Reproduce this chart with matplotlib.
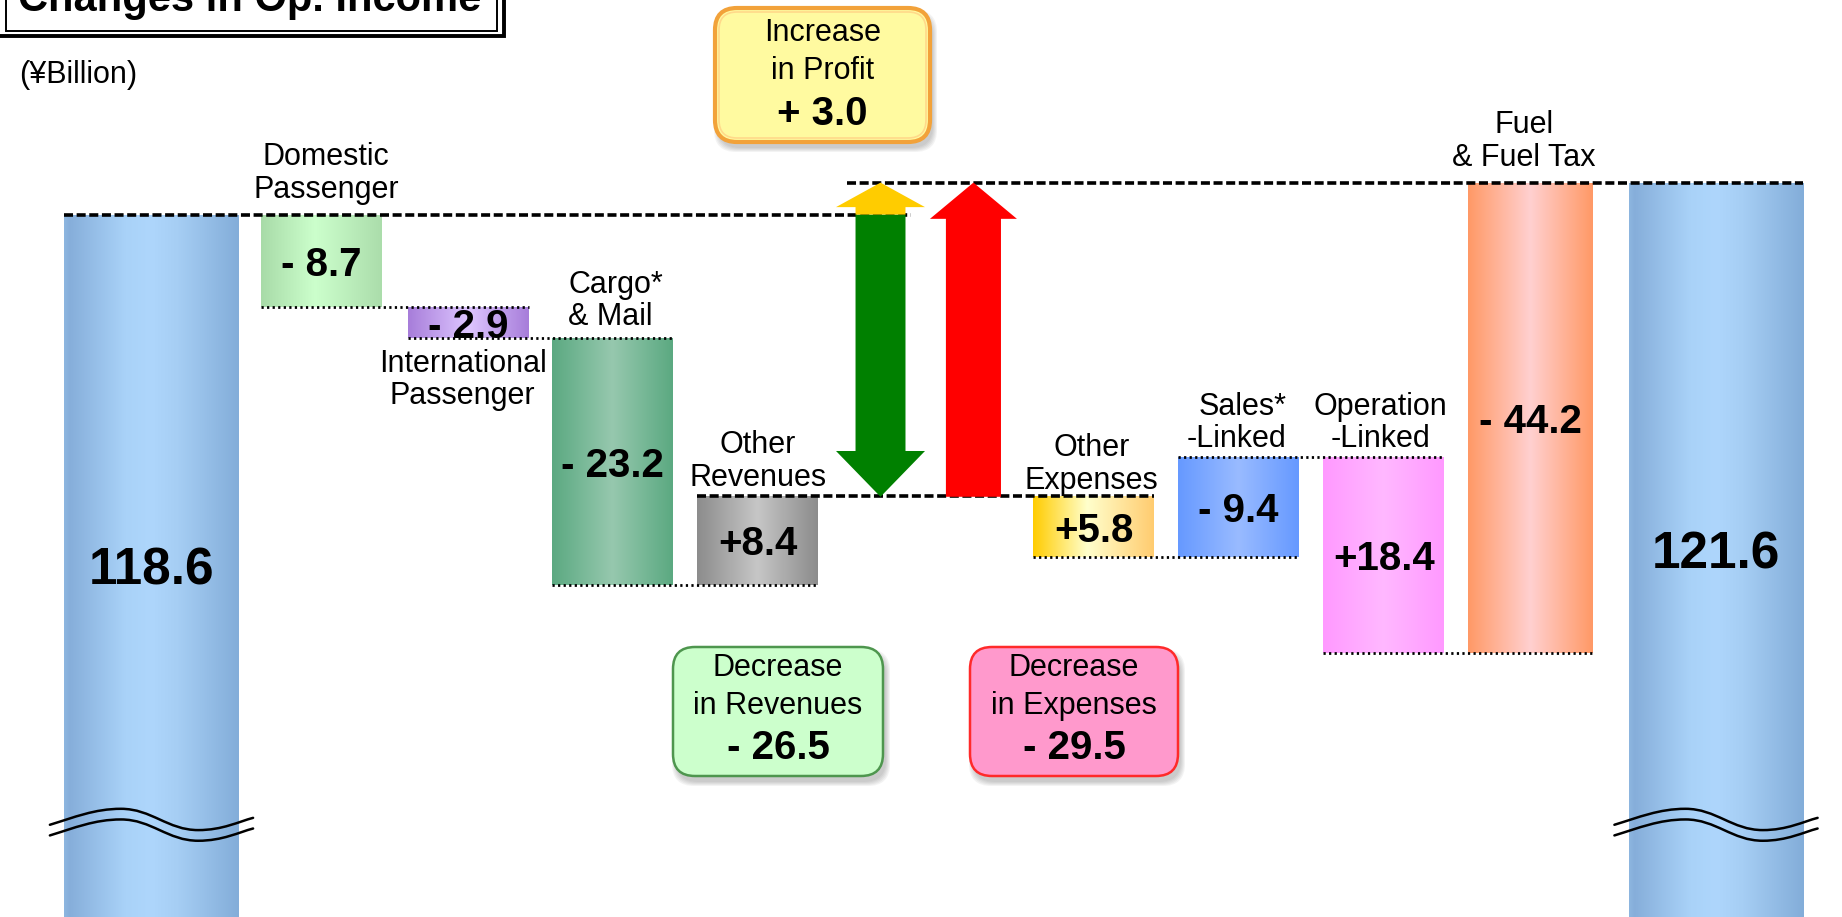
import numpy as np
import matplotlib
matplotlib.use("Agg")
import matplotlib.pyplot as plt
import matplotlib.transforms as mtransforms
from matplotlib.patches import Rectangle, FancyBboxPatch, Polygon, PathPatch
from matplotlib.path import Path
from matplotlib.colors import to_rgb

plt.rcParams['font.family'] = ['Liberation Sans', 'DejaVu Sans']

# operating income, ¥ billion
start_income = 118.6
end_income = 121.6

rev_names = ["Domestic\nPassenger", "International\nPassenger", "Cargo*\n& Mail", "Other\nRevenues"]
rev_changes = [-8.7, -2.9, -23.2, 8.4]

exp_names = ["Other\nExpenses", "Sales*\n-Linked", "Operation\n-Linked", "Fuel\n& Fuel Tax"]
exp_changes = [5.8, -9.4, 18.4, -44.2]   # change in expense (profit effect is the opposite)

rev_total = -26.5
exp_total = -29.5
profit_change = 3.0

# ---- layout -------------------------------------------------------------
W, H = 1842, 917
fig = plt.figure(figsize=(W / 100, H / 100), dpi=100)
ax = fig.add_axes([0, 0, 1, 1])
XLIM = (-1.04, 11.606)
YLIM = (52.64, 138.75)

x_start, x_end = 0.0, 10.741
x_rev = [1.166, 2.178, 3.168, 4.162]
x_exp = [6.468, 7.464, 8.460, 9.469]
x_arrow_rev, x_arrow_exp = 5.005, 5.643
end_w = 1.195
step_w = [0.83, 0.83, 0.83, 0.83, 0.83, 0.83, 0.83, 0.855]

# pixel transform, origin top-left
px = mtransforms.Affine2D().scale(0.01, -0.01).translate(0, H / 100) + fig.dpi_scale_trans

blue_grad = [(0, '#8DB6E0'), (0.03, '#86AEDA'), (0.35, '#A9D2F8'), (0.5, '#AED6FC'),
             (0.65, '#A6CEF4'), (1, '#83ADD9')]
step_grads = [
    [(0, '#A8DBA8'), (0.45, '#CCFFCC'), (1, '#ABDDAB')],
    [(0, '#A77DDA'), (0.5, '#DEC6FF'), (1, '#A77DDA')],
    [(0, '#5BA981'), (0.5, '#96C8AE'), (1, '#5BA981')],
    [(0, '#8C8C8C'), (0.5, '#C6C6C6'), (1, '#8C8C8C')],
    [(0, '#FFCC00'), (0.45, '#FFFFCC'), (1, '#FFCC70')],
    [(0, '#6699FF'), (0.5, '#99BBFF'), (1, '#6699FF')],
    [(0, '#FF99FF'), (0.5, '#FFB8FF'), (1, '#FF99FF')],
    [(0, '#FF9966'), (0.5, '#FFD0D0'), (1, '#FF9966')],
]


def gradient_fill(bar, stops):
    x0, y0 = bar.get_x(), bar.get_y()
    w, h = bar.get_width(), bar.get_height()
    t = np.linspace(0, 1, 256)
    pos = [s[0] for s in stops]
    cols = np.array([to_rgb(s[1]) for s in stops])
    rgb = np.stack([np.interp(t, pos, cols[:, k]) for k in range(3)], axis=-1)
    im = ax.imshow(rgb[None, :, :], extent=(x0, x0 + w, y0, y0 + h), aspect='auto',
                   interpolation='bilinear', zorder=1)
    im.set_clip_path(bar)


# ---- bars -----------------------------------------------------------------
effects = rev_changes + [-c for c in exp_changes]
levels = start_income + np.cumsum(effects)
prev = np.concatenate([[start_income], levels[:-1]])
bottoms = np.minimum(prev, levels)
heights = np.abs(effects)
x_steps = x_rev + x_exp

end_bars = ax.bar([x_start, x_end], [start_income, end_income], width=end_w,
                  color='none', linewidth=0)
for b in end_bars:
    gradient_fill(b, blue_grad)

step_bars = ax.bar(x_steps, heights, bottom=bottoms, width=step_w, color='none', linewidth=0)
for b, g in zip(step_bars, step_grads):
    gradient_fill(b, g)

# ---- level lines ------------------------------------------------------------
dash = dict(color='black', lw=2.6, linestyle=(0, (2.5, 1.0)), zorder=3)
dot = dict(color='black', lw=2.0, linestyle=(0, (0.8, 1.2)), zorder=3)


def left(b):
    return b.get_x()


def right(b):
    return b.get_x() + b.get_width()


ax.hlines(start_income, left(end_bars[0]), x_arrow_rev + 0.21, **dash)
ax.hlines(end_income, x_arrow_rev - 0.232, right(end_bars[1]), **dash)
ax.hlines(levels[3], left(step_bars[3]), right(step_bars[4]), **dash)
for i in [0, 1, 2, 4, 5, 6]:
    ax.hlines(levels[i], left(step_bars[i]), right(step_bars[i + 1]), **dot)

# ---- arrows ---------------------------------------------------------------


def block_arrow(x, y_from, y_to, shaft_w, head_w, head_len, color, z=4):
    d = np.sign(y_to - y_from)
    yb = y_to - d * head_len
    pts = [(x - shaft_w / 2, y_from), (x - shaft_w / 2, yb), (x - head_w / 2, yb), (x, y_to),
           (x + head_w / 2, yb), (x + shaft_w / 2, yb), (x + shaft_w / 2, y_from)]
    ax.add_patch(Polygon(pts, closed=True, facecolor=color, edgecolor='none', zorder=z))


after_rev = start_income + rev_total
block_arrow(x_arrow_rev, start_income, after_rev, 0.343, 0.611, 4.3, '#008000')
block_arrow(x_arrow_rev, start_income, start_income + profit_change, 0.343, 0.611, 2.3, '#FFCC00')
block_arrow(x_arrow_exp, after_rev, after_rev - exp_total, 0.378, 0.597, 3.4, '#FF0000')

# ---- axis break marks on the two totals -------------------------------------
wave_codes = [Path.MOVETO] + [Path.CURVE4] * 9
wave_t = [0, 0.12, 0.22, 0.35, 0.50, 0.58, 0.73, 0.85, 0.93, 1.0]
wave_f = [-0.5, 0.2, 1.0, 1.0, 1.0, -1.0, -1.0, -1.0, -0.2, 0.15]
y_break = 61.8
for b in end_bars:
    x0, x1 = left(b) - 0.1, right(b) + 0.1
    for off in (0.0, -1.0):
        verts = [(x0 + t * (x1 - x0), y_break + off + 1.0 * f) for t, f in zip(wave_t, wave_f)]
        ax.add_patch(PathPatch(Path(verts, wave_codes), facecolor='none', edgecolor='black',
                               lw=1.8, zorder=3, capstyle='round'))

# ---- value labels -----------------------------------------------------------


def fmt(v, gap=False):
    if v < 0:
        return f"- {abs(v):.1f}"
    return f"+ {v:.1f}" if gap else f"+{v:.1f}"


for b, v in zip(end_bars, [start_income, end_income]):
    ax.text(b.get_x() + b.get_width() / 2, (v + YLIM[0]) / 2, f"{v:.1f}",
            ha='center', va='center_baseline', fontsize=37, weight='bold', zorder=5)

step_values = rev_changes + exp_changes
for b, v in zip(step_bars, step_values):
    ax.text(b.get_x() + b.get_width() / 2, b.get_y() + b.get_height() / 2, fmt(v),
            ha='center', va='center_baseline', fontsize=29, weight='bold', zorder=5)

# category names: (anchor, dx px, dy px)
name_pos = [("center", 5, 17), ("below", -6, -11), ("left", 16, 13), ("center", 0, 10),
            ("center", -2, 7), ("right", -13, 10), ("center", -3, 10), ("center", -7, 17)]
for b, name, (anchor, dx, dy) in zip(step_bars, rev_names + exp_names, name_pos):
    top = b.get_y() + b.get_height()
    cx = b.get_x() + b.get_width() / 2
    if anchor == "below":
        xy, ha, va = (cx, b.get_y()), 'center', 'top'
    elif anchor == "left":
        xy, ha, va = (left(b), top), 'left', 'baseline'
    elif anchor == "right":
        xy, ha, va = (right(b), top), 'right', 'baseline'
    else:
        xy, ha, va = (cx, top), 'center', 'baseline'
    ax.annotate(name, xy=xy, xytext=(dx, dy), textcoords='offset pixels', ha=ha, va=va,
                fontsize=22, linespacing=1.1, zorder=5)

ax.set_xlim(*XLIM)
ax.set_ylim(*YLIM)
ax.axis('off')

# ---- summary boxes ----------------------------------------------------------


def summary_box(x0, y0, x1, y1, face, edge, lw, lines, rim=None):
    for k in range(5):
        ax.add_patch(FancyBboxPatch((x0 + 3 - k, y0 + 6 - k), x1 - x0 + 2 * k, y1 - y0 + 2 * k,
                                    boxstyle="round,pad=0,rounding_size=22", transform=px,
                                    facecolor='#404040', edgecolor='none', alpha=0.06,
                                    zorder=6, clip_on=False))
    ax.add_patch(FancyBboxPatch((x0, y0), x1 - x0, y1 - y0,
                                boxstyle="round,pad=0,rounding_size=22", transform=px,
                                facecolor=face, edgecolor=edge, lw=lw, zorder=7, clip_on=False))
    if rim:
        ax.add_patch(FancyBboxPatch((x0 + 4, y0 + 4), x1 - x0 - 8, y1 - y0 - 8,
                                    boxstyle="round,pad=0,rounding_size=18", transform=px,
                                    facecolor='none', edgecolor=rim, lw=1.2, zorder=7,
                                    clip_on=False))
    cx = (x0 + x1) / 2
    for (txt, y, bold) in lines:
        ax.text(cx, y, txt, transform=px, ha='center', va='center', zorder=8,
                fontsize=29 if bold else 22, weight='bold' if bold else 'normal')


summary_box(715, 8, 930, 142, '#FFFAA0', '#F2A23A', 3.0,
            [("Increase", 33, False), ("in Profit", 71, False), (fmt(profit_change, True), 114, True)],
            rim='#FFD98A')
summary_box(673, 647, 883, 776, '#CCFFCC', '#4E964E', 1.8,
            [("Decrease", 668, False), ("in Revenues", 706, False), (fmt(rev_total, True), 748, True)])
summary_box(970, 647, 1178, 776, '#FF99CC', '#FF2A2A', 1.8,
            [("Decrease", 668, False), ("in Expenses", 706, False), (fmt(exp_total, True), 748, True)])

# ---- title and unit ----------------------------------------------------------
ax.add_patch(Rectangle((-10, -20), 514, 56, transform=px, facecolor='white', edgecolor='black',
                       lw=2.8, zorder=6, clip_on=False))
ax.add_patch(Rectangle((6, -20), 491, 51, transform=px, facecolor='none', edgecolor='black',
                       lw=1.4, zorder=6, clip_on=False))
ax.text(18, 11, "Changes in Op. Income", transform=px, ha='left', va='baseline',
        fontsize=30, weight='bold', zorder=7)
ax.text(19, 75, "(¥Billion)", transform=px, ha='left', va='center', fontsize=22, zorder=7)

fig.savefig("out.png", dpi=100)
